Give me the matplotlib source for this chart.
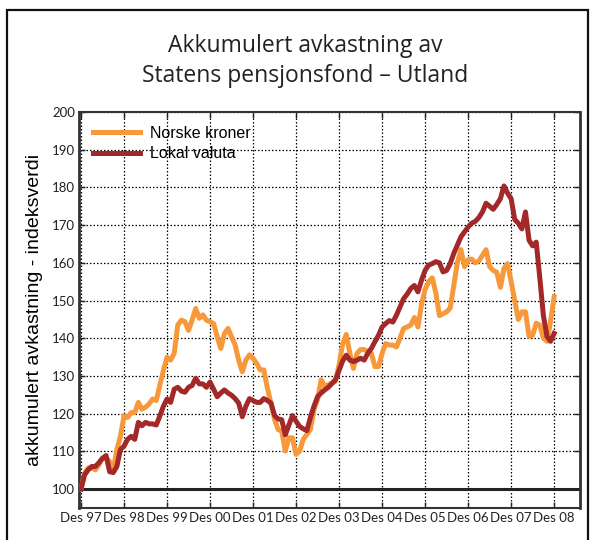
import numpy as np
import matplotlib
matplotlib.use('Agg')
import matplotlib.pyplot as plt
from matplotlib.patches import Rectangle

# monthly index values, Des 97 = 100
norske_kroner = [
    100, 104.2, 105.6, 105.6, 105.1, 106.5, 108.2, 108.2, 107.3, 105.1,
    110.5, 114, 119.4, 119, 120.3, 120.3, 123, 121.2, 121.7, 122.6,
    123.9, 123.5, 127.5, 131.5, 135, 134.2, 136, 143.5, 144.8, 144.4,
    142.1, 144.8, 147.9, 145.3, 146.2, 144.8, 144.4, 143.9, 140.4, 137.3,
    141.2, 142.6, 140.4, 138.2, 134.2, 131.1, 134.2, 135.6, 134.7, 133.3,
    131.6, 131.6, 126.8, 122.8, 118.5, 115.8, 115.4, 110.1, 113.6, 113.6,
    109.2, 110.1, 113.2, 114.5, 115.8, 121.1, 123.7, 129, 127.3, 127.7,
    128.1, 128.6, 133, 138.5, 141, 136, 132, 136, 137, 137,
    136.5, 136, 132.5, 132.5, 136, 138.6, 138.2, 138.2, 137.7, 140,
    142.6, 143, 143.5, 145.5, 143, 149, 153, 155, 156, 152,
    146, 146.5, 147, 148, 154, 160, 163.5, 159, 160.8, 161,
    160, 160.5, 162, 163.5, 159, 158, 157.5, 153.5, 158.5, 159.8,
    155, 150, 145, 147, 147, 140.5, 140.8, 144, 143.5, 140,
    139.2, 144.5, 151,
]
lokal_valuta = [
    100, 103.8, 105.1, 106, 106, 107, 108.2, 108.9, 104.6, 104.4,
    106, 110.5, 111.4, 113.2, 114, 113.2, 117.7, 116.8, 117.7, 117.3,
    117.3, 117, 119.4, 122, 123.9, 123, 126.5, 127, 126, 125.7,
    127, 127.5, 129.4, 127.9, 127.9, 127, 128.4, 126.5, 124.5, 125.5,
    126.3, 125.5, 124.9, 124, 122.8, 119.2, 122, 124, 123.5, 123,
    123, 124, 123.5, 122.8, 119.5, 118.6, 118.4, 114.4, 117, 119.5,
    118, 116.6, 116, 115.5, 119, 122, 124.5, 125.5, 126.3, 127,
    128, 129, 131.5, 134, 135.5, 134.2, 133.8, 134.2, 134.7, 134.2,
    136, 137.3, 139.1, 140.8, 143, 143.9, 144.7, 144.3, 146.1, 148.3,
    150.5, 151.7, 153.2, 154, 152.3, 155.4, 158, 159.4, 159.8, 160.3,
    160, 157.6, 158, 159.8, 162.5, 164.7, 166.9, 168.2, 169.5, 170.5,
    171, 172, 173.5, 175.8, 175, 174.2, 175.5, 177, 180.4, 178.5,
    177, 171.5, 170.5, 169, 173.5, 166, 164.5, 165.5, 156, 146,
    140.5, 139.2, 141.3,
]
tick_labels = ['Des 97', 'Des 98', 'Des 99', 'Des 00', 'Des 01', 'Des 02',
               'Des 03', 'Des 04', 'Des 05', 'Des 06', 'Des 07', 'Des 08']

orange = '#F7993A'
red = '#A3282A'

fig = plt.figure(figsize=(5.93, 5.40), dpi=100)
ax = fig.add_axes([0.1332, 0.0593, 0.8448, 0.7333])

months = np.arange(len(norske_kroner))
ax.plot(months, norske_kroner, color=orange, lw=3.6, label='Norske kroner',
        solid_joinstyle='round', zorder=3)
ax.plot(months, lokal_valuta, color=red, lw=3.6, label='Lokal valuta',
        solid_joinstyle='round', zorder=4)
ax.axhline(100, color='#222222', lw=2.2, zorder=2)

ax.set_xlim(-0.56, 139.2)
ax.set_ylim(95, 200)
ax.set_xticks(np.arange(len(tick_labels)) * 12)
ax.set_xticklabels(tick_labels)
ax.set_yticks(np.arange(100, 201, 10))
ax.grid(True, color='black', linestyle=(0, (1.2, 1.6)), lw=0.9)
ax.tick_params(direction='in', top=True, right=True, length=4, width=1,
               labelsize=9.5, pad=3, colors='#222222')
for lab in ax.get_xticklabels() + ax.get_yticklabels():
    lab.set_family('Lato')
for s in ax.spines.values():
    s.set_color('#333333')
ax.spines['left'].set_linewidth(2)
ax.spines['right'].set_linewidth(2)
ax.spines['bottom'].set_linewidth(1.5)
ax.spines['top'].set_linewidth(1.5)

ax.set_ylabel('akkumulert avkastning - indeksverdi', fontsize=14,
              family='Liberation Sans', labelpad=6)

leg = ax.legend(loc='upper left', frameon=False,
                handlelength=3.0, handletextpad=0.6, labelspacing=0.35,
                borderaxespad=0.45, prop={'family': 'Liberation Sans', 'size': 11.5})

fig.text(0.514, 0.915, 'Akkumulert avkastning av', ha='center', va='center',
         fontsize=16.5, family='Open Sans', color='#222222')
fig.text(0.514, 0.86, 'Statens pensjonsfond \u2013 Utland', ha='center',
         va='center', fontsize=16.5, family='Open Sans', color='#222222')

# outer frame around the whole chart
fig.patches.append(Rectangle((7 / 593, -0.05), 581 / 593, 1.05 - 10 / 540,
                             transform=fig.transFigure, fill=False,
                             edgecolor='#111111', lw=1.6))

fig.savefig('out.png', dpi=100)
